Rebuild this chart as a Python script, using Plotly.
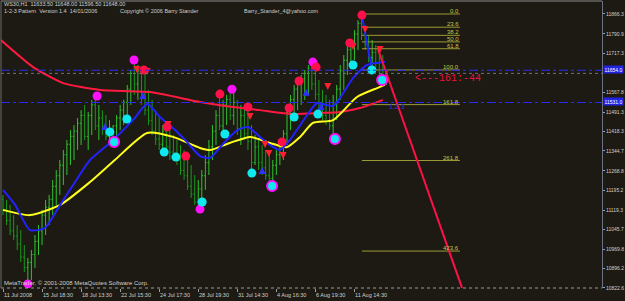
import plotly.graph_objects as go

# ---------------- data ----------------
bar_open = [11160,11120,11080,11040,11020,10990,10940,10900,10920,10950,11000,11040,11100,11130,11160,11210,11250,11290,11330,11370,
            11400,11420,11450,11480,11400,11480,11520,11440,11470,11430,11400,11420,11440,11470,11500,11530,11580,11640,11600,11650,
            11560,11500,11460,11420,11390,11370,11420,11360,11340,11330,11310,11270,11250,11210,11180,11150,11200,11250,11300,11360,
            11420,11480,11440,11520,11540,11480,11530,11430,11480,11410,11380,11300,11360,11300,11280,11250,11240,11290,11330,11370,
            11410,11490,11540,11580,11600,11620,11640,11660,11600,11560,11500,11480,11460,11440,11530,11580,11650,11690,11730,11750,
            11790,11830,11790,11750,11700,11720,11680,11650,11633.5]
bar_high = [11177,11158,11139,11100,11062,11043,10986,10937,10967,11024,11062,11120,11158,11177,11234,11272,11310,11348,11386,11424,
            11443,11470,11500,11520,11493,11539,11554,11520,11500,11481,11462,11443,11481,11520,11539,11596,11653,11691,11672,11661,
            11645,11577,11539,11500,11481,11443,11443,11424,11405,11386,11367,11348,11318,11291,11253,11234,11272,11329,11386,11443,
            11500,11558,11539,11558,11584,11569,11539,11520,11520,11508,11443,11405,11386,11367,11348,11329,11310,11348,11386,11424,
            11508,11558,11596,11615,11634,11653,11672,11683,11661,11615,11577,11558,11539,11558,11596,11672,11710,11748,11767,11805,
            11843,11866,11824,11786,11767,11748,11729,11710,11648]
bar_low = [11100,11062,11024,11005,10967,10921,10883,10834,10853,10899,10948,10986,11024,11062,11100,11139,11177,11215,11253,11291,
           11310,11348,11367,11386,11348,11405,11424,11386,11405,11386,11367,11367,11386,11424,11443,11462,11520,11558,11539,11520,
           11481,11443,11405,11367,11348,11329,11348,11310,11310,11291,11253,11234,11196,11165,11139,11120,11158,11196,11253,11310,
           11367,11424,11405,11443,11462,11443,11405,11367,11386,11348,11264,11291,11272,11253,11234,11215,11211,11253,11291,11310,
           11367,11424,11474,11500,11520,11539,11558,11577,11539,11481,11462,11443,11424,11394,11462,11539,11577,11634,11672,11691,
           11729,11767,11729,11683,11653,11661,11634,11615,11596.5]
bar_close = [11120,11080,11040,11020,10990,10940,10900,10920,10950,11000,11040,11100,11130,11160,11210,11250,11290,11330,11370,11400,
             11420,11450,11480,11400,11480,11520,11440,11470,11430,11400,11420,11440,11470,11500,11530,11580,11640,11600,11650,11560,
             11500,11460,11420,11390,11370,11420,11360,11340,11330,11310,11270,11250,11210,11180,11150,11200,11250,11300,11360,11420,
             11480,11440,11520,11540,11480,11530,11430,11480,11410,11380,11300,11360,11300,11280,11250,11240,11290,11330,11370,11410,
             11490,11540,11580,11600,11620,11640,11660,11600,11560,11500,11480,11460,11440,11530,11580,11650,11690,11730,11750,11790,
             11830,11790,11750,11700,11720,11680,11650,11633.5,11648]
bar_index = list(range(len(bar_close)))

red_ma_x = [-0.6, 8.5, 16.9, 27.3, 41.4, 55.5, 64.8, 72.4, 81.7, 89.3, 94.9, 100.6, 107.0]
red_ma = [11767, 11664, 11603, 11577, 11569, 11531, 11512, 11500, 11485, 11489, 11493, 11508, 11539]

blue_ma_x = [0, 3.4, 7.6, 11.8, 16.1, 20.3, 24.5, 30.1, 36.6, 40.6, 44.2, 48.5, 51.8, 55.5, 58.3, 61.7, 66.0, 69.0,
             71.8, 75.2, 78.0, 80.8, 85.1, 88.5, 93.0, 98.6, 102.5, 107.6]
blue_ma = [11196, 11139, 11043, 11051, 11139, 11226, 11310, 11375, 11462, 11523, 11474, 11424, 11379, 11325, 11318, 11367,
           11424, 11436, 11405, 11367, 11348, 11386, 11470, 11527, 11516, 11622, 11672, 11683]

yellow_ma_x = [0, 7.6, 16.1, 24.5, 31.5, 40.6, 47.9, 55.5, 58.3, 63.9, 69.6, 75.2, 80.0, 83.7, 87.3, 93.0, 99.7, 105.4, 107.6]
yellow_ma = [11120, 11100, 11139, 11226, 11310, 11413, 11398, 11356, 11348, 11375, 11398, 11375, 11359, 11398, 11451,
             11462, 11550, 11584, 11596]

magenta_x = [7.0, 26.5, 36.9, 64.5, 87.3, 55.5]
magenta_y = [10838, 11554, 11691, 11580, 11683, 11123]
red_dot_x = [39.7, 46.2, 51.5, 61.1, 69.0, 78.6, 80.6, 83.4, 88.2, 97.7, 101.1]
red_dot_y = [11653, 11436, 11325, 11561, 11512, 11379, 11508, 11611, 11664, 11756, 11862]
cyan_x = [30.1, 34.9, 45.4, 48.7, 56.1, 62.5, 70.1, 82.0, 88.7, 98.6, 103.9]
cyan_y = [11417, 11466, 11340, 11321, 11150, 11409, 11260, 11474, 11485, 11672, 11653]
ring_x = [31.3, 75.8, 93.5, 106.8]
ring_y = [11379, 11211, 11390, 11615]
down_arrow_x = [37.7, 40.6, 46.5, 69.6, 73.8, 74.9, 78.9, 91.5, 98.6, 102.0, 106.2]
down_arrow_y = [11641, 11634, 11432, 11462, 11356, 11321, 11314, 11577, 11729, 11794, 11718]
up_arrow_x = [28.7, 39.4, 73.0, 76.1, 85.4, 89.6]
up_arrow_y = [11451, 11569, 11283, 11238, 11581, 11527]

zigzag_x = [101.1, 103.9]
zigzag_y = [11862, 11653]
target_x = [105.6, 129.3]
target_y = [11733, 10822.6]

fib_labels = ["0.0", "23.6", "38.2", "50.0", "61.8", "100.0", "161.8", "261.8", "423.6"]
fib_prices = [11866.3, 11816, 11785, 11760, 11734, 11653, 11521, 11308, 10963]
fib_x = [101.1, 128.7]

hline_prices = [11652, 11529]
bid_price = 11640
axis_box_labels = ["11654.0", "11531.0"]
axis_box_prices = [11653, 11533]

price_ticks = [11866.3, 11790.9, 11717.3, 11567.8, 11491.3, 11418.3, 11344.7, 11268.8, 11195.2,
               11119.3, 11045.7, 10969.8, 10896.2, 10822.6]
time_tick_idx = [0, 11, 22, 33, 44, 55, 66, 77, 88, 99]
time_tick_labels = ["11 Jul 2008", "15 Jul 18:30", "18 Jul 13:30", "22 Jul 15:30", "24 Jul 17:30",
                    "28 Jul 19:30", "31 Jul 14:30", "4 Aug 16:30", "6 Aug 19:30", "11 Aug 14:30"]

# ---------------- figure ----------------
BG = "#1c1a12"
TXT = "#cfcfcf"
FONT = "Liberation Sans"

fig = go.Figure()

fig.add_trace(go.Ohlc(x=bar_index, open=bar_open, high=bar_high, low=bar_low, close=bar_close,
                      increasing=dict(line=dict(color="#2ec42e", width=1)),
                      decreasing=dict(line=dict(color="#169a1a", width=1)),
                      tickwidth=0.35, showlegend=False, hoverinfo="skip"))

for lp in hline_prices:
    fig.add_shape(type="line", xref="paper", x0=0, x1=1, yref="y", y0=lp, y1=lp,
                  line=dict(color="#2b2bff", width=1, dash="dashdot"))
fig.add_shape(type="line", xref="paper", x0=0, x1=1, yref="y", y0=bid_price, y1=bid_price,
              line=dict(color="#707070", width=1, dash="dot"))

for lab, fp in zip(fib_labels, fib_prices):
    fig.add_trace(go.Scatter(x=fib_x, y=[fp, fp], mode="lines", line=dict(color="#9c9c36", width=1),
                             showlegend=False, hoverinfo="skip"))
    fig.add_annotation(x=fib_x[1], y=fp, text=lab, showarrow=False, xanchor="right", yanchor="bottom",
                       font=dict(family=FONT, size=6, color="#c4c44a"), borderpad=0, yshift=-1)

fig.add_trace(go.Scatter(x=red_ma_x, y=red_ma, mode="lines", line=dict(color="#ff1a40", width=2, shape="spline", smoothing=0.6),
                         showlegend=False, hoverinfo="skip"))
fig.add_trace(go.Scatter(x=yellow_ma_x, y=yellow_ma, mode="lines", line=dict(color="#ffff1e", width=2, shape="spline", smoothing=0.6),
                         showlegend=False, hoverinfo="skip"))
fig.add_trace(go.Scatter(x=blue_ma_x, y=blue_ma, mode="lines", line=dict(color="#2222ff", width=2, shape="spline", smoothing=0.6),
                         showlegend=False, hoverinfo="skip"))
fig.add_trace(go.Scatter(x=zigzag_x, y=zigzag_y, mode="lines", line=dict(color="#2222ff", width=2),
                         showlegend=False, hoverinfo="skip"))
fig.add_trace(go.Scatter(x=target_x, y=target_y, mode="lines", line=dict(color="#ff1046", width=2),
                         showlegend=False, hoverinfo="skip"))

fig.add_trace(go.Scatter(x=down_arrow_x, y=down_arrow_y, mode="markers",
                         marker=dict(symbol="arrow-down", size=7, color="#ff2030"), showlegend=False, hoverinfo="skip"))
fig.add_trace(go.Scatter(x=up_arrow_x, y=up_arrow_y, mode="markers",
                         marker=dict(symbol="arrow-up", size=7, color="#3030ff"), showlegend=False, hoverinfo="skip"))
fig.add_trace(go.Scatter(x=magenta_x, y=magenta_y, mode="markers",
                         marker=dict(symbol="circle", size=9, color="#ff10ff", line=dict(width=0)), showlegend=False, hoverinfo="skip"))
fig.add_trace(go.Scatter(x=red_dot_x, y=red_dot_y, mode="markers",
                         marker=dict(symbol="circle", size=9, color="#ff1048", line=dict(width=0)), showlegend=False, hoverinfo="skip"))
fig.add_trace(go.Scatter(x=cyan_x, y=cyan_y, mode="markers",
                         marker=dict(symbol="circle", size=9, color="#10e8f0", line=dict(width=0)), showlegend=False, hoverinfo="skip"))
fig.add_trace(go.Scatter(x=ring_x, y=ring_y, mode="markers",
                         marker=dict(symbol="circle", size=10, color="#10e8f0", line=dict(width=2, color="#ff10ff")),
                         showlegend=False, hoverinfo="skip"))

# texts
fig.add_annotation(x=115.5, y=11619, text="<---161:-44", showarrow=False, xanchor="left", yanchor="middle",
                   font=dict(family="Liberation Mono", size=10, color="#e8143c"))
fig.add_annotation(x=108.2, y=11512, text="1.2.3", showarrow=False, xanchor="left", yanchor="middle",
                   font=dict(family=FONT, size=7, color="#3030ff"))

fig.add_annotation(xref="paper", yref="paper", x=0, y=1, xshift=2, yshift=1, xanchor="left", yanchor="top",
                   text="WS30,H1  11633.50 11648.00 11596.50 11648.00", showarrow=False, borderpad=0,
                   font=dict(family=FONT, size=5.5, color=TXT))
fig.add_annotation(xref="paper", yref="paper", x=0, y=1, xshift=2, yshift=-6, xanchor="left", yanchor="top",
                   text="1-2-3 Pattern  Version 1.4  14/01/2006", showarrow=False, borderpad=0,
                   font=dict(family=FONT, size=5.5, color=TXT))
fig.add_annotation(xref="paper", yref="paper", x=118 / 601, y=1, yshift=-6, xanchor="left", yanchor="top",
                   text="Copyright © 2006 Barry Stander", showarrow=False, borderpad=0,
                   font=dict(family=FONT, size=5.5, color=TXT))
fig.add_annotation(xref="paper", yref="paper", x=242 / 601, y=1, yshift=-6, xanchor="left", yanchor="top",
                   text="Barry_Stander_4@yahoo.com", showarrow=False, borderpad=0,
                   font=dict(family=FONT, size=5.5, color=TXT))
fig.add_annotation(xref="paper", yref="paper", x=0, y=0, xshift=2, yshift=1, xanchor="left", yanchor="bottom",
                   text="MetaTrader, © 2001-2008 MetaQuotes Software Corp.", showarrow=False, borderpad=0,
                   font=dict(family=FONT, size=6, color=TXT))

for ti, tl in zip(time_tick_idx, time_tick_labels):
    fig.add_annotation(x=ti, xref="x", y=0, yref="paper", yshift=-3, text=tl, showarrow=False,
                       xanchor="left", yanchor="top", borderpad=0, font=dict(family=FONT, size=5.5, color=TXT))

for lab, bp in zip(axis_box_labels, axis_box_prices):
    fig.add_annotation(xref="paper", x=1, xshift=1, yref="y", y=bp, text=lab, showarrow=False,
                       xanchor="left", yanchor="middle", bgcolor="#2323e6", borderpad=0.5,
                       font=dict(family=FONT, size=5, color="#ffffff"))

# borders
fig.add_shape(type="line", xref="paper", yref="paper", x0=0, x1=1, y0=1, y1=1, line=dict(color="#8a8a8a", width=1))
fig.add_shape(type="line", xref="paper", yref="paper", x0=0, x1=0, y0=0, y1=1, line=dict(color="#6a6a6a", width=1))
fig.add_shape(type="line", xref="paper", yref="paper", x0=0, x1=1, y0=0, y1=0, line=dict(color="#9a9a9a", width=1, dash="dot"))

fig.update_layout(
    width=625, height=301,
    margin=dict(l=1, r=23, t=1, b=13, autoexpand=False),
    paper_bgcolor=BG, plot_bgcolor=BG,
    showlegend=False, hovermode=False,
    xaxis=dict(range=[-0.563, 168.73], showgrid=False, zeroline=False, showline=False, automargin=False,
               tickvals=time_tick_idx, ticks="outside", ticklen=3, tickcolor="#a0a0a0",
               showticklabels=False, rangeslider=dict(visible=False), fixedrange=True),
    yaxis=dict(range=[10822.3, 11915.8], side="right", showgrid=False, zeroline=False, automargin=False,
               showline=True, linecolor="#6c7284", linewidth=1,
               tickvals=price_ticks, ticktext=[f"{v:.1f}" for v in price_ticks],
               ticks="outside", ticklen=2, tickcolor="#a0a0a0", ticklabelstandoff=0,
               tickfont=dict(family=FONT, size=5, color=TXT), fixedrange=True),
)

fig.write_html("out.html", config=dict(displayModeBar=False, staticPlot=True))
